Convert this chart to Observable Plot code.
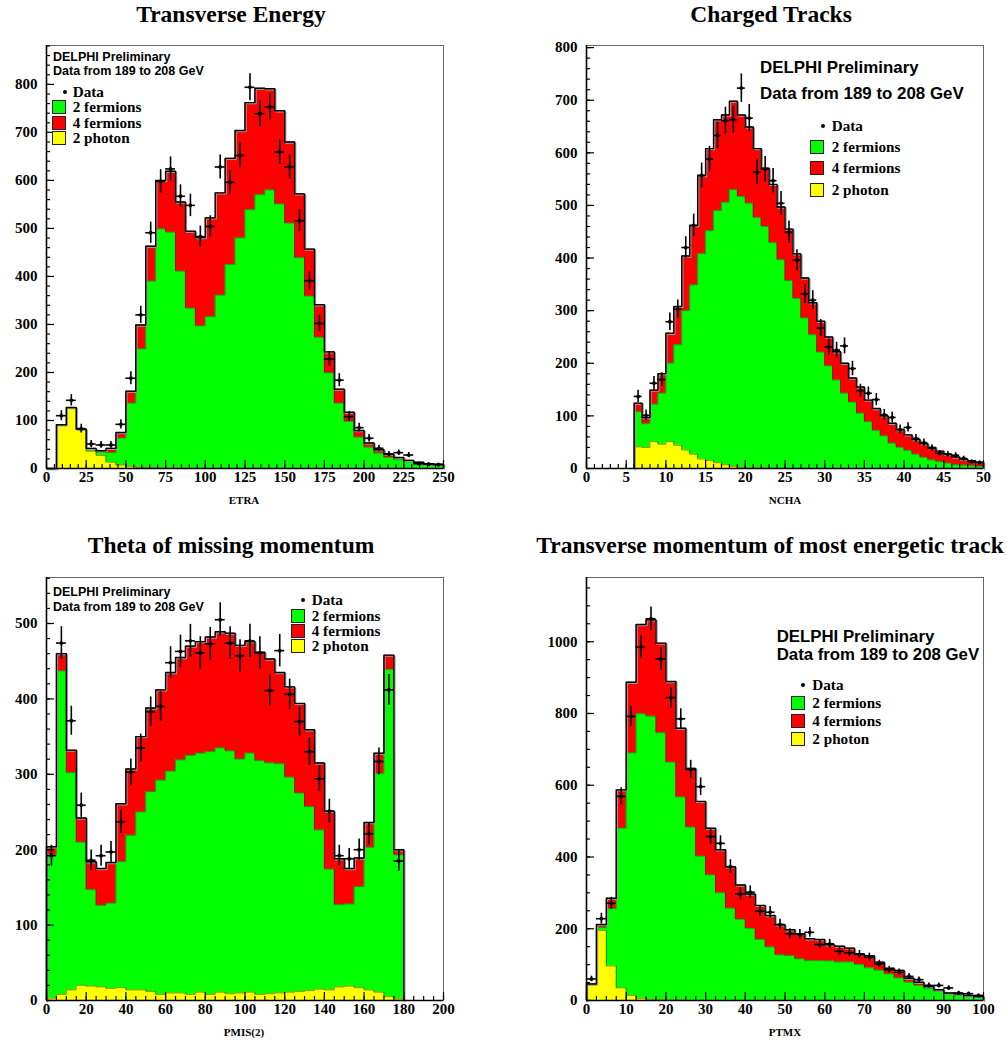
<!DOCTYPE html>
<html>
<head>
<meta charset="utf-8">
<script src="https://cdn.jsdelivr.net/npm/d3@7"></script>
<script src="https://cdn.jsdelivr.net/npm/@observablehq/plot@0.6"></script>
<style>
  html, body { margin: 0; padding: 0; background: #fff; }
  #page { position: relative; width: 1007px; height: 1043px; overflow: hidden; background: #fff; }
  #page svg { position: absolute; }
  .title { position: absolute; font-family: "Liberation Serif", serif; font-weight: bold; font-size: 23.5px; line-height: 1; white-space: nowrap; transform: translate(-50%, -50%); color: #000; }
  .axt { position: absolute; font-family: "Liberation Serif", serif; font-weight: bold; font-size: 11px; line-height: 1; white-space: nowrap; transform: translate(-50%, -50%); color: #000; }
  .note { position: absolute; font-family: "Liberation Sans", sans-serif; font-weight: bold; line-height: 1; white-space: nowrap; transform: translateY(-50%); color: #000; }
  .leg { position: absolute; font-family: "Liberation Serif", serif; font-weight: bold; font-size: 15.2px; line-height: 0.85; white-space: nowrap; transform: translateY(-50%); color: #000; }
  .box { position: absolute; width: 12px; height: 12px; border: 1px solid #222; transform: translateY(-50%); }
  .ldot { position: absolute; width: 4px; height: 4px; border-radius: 50%; background: #000; transform: translate(-50%, -50%); }
</style>
</head>
<body>
<div id="page"></div>
<script>
// ================= DATA =================
// Transverse Energy (ETRA): 40 bins of 6.25 from 0
const etraStart = 0, etraBin = 6.25;
const etraPhoton = [0,91,127,82,36,27,13,7,4,2,2,1,1,1,0,0,0,0,0,0,0,0,0,0,0,0,0,0,0,0,0,0,0,0,0,0,0,0,0,0];
const etraTwoF   = [0,0,0,0,3,7,20,56,132,247,388,498,491,410,334,297,316,361,425,480,539,570,580,551,511,439,359,273,199,136,98,65,44,32,23,18,14,9,7,6];
const etraFourF  = [0,0,0,0,3,3,9,12,25,50,73,101,127,144,160,184,206,213,221,224,223,222,211,194,169,133,98,68,44,29,19,14,9,7,7,5,3,4,3,3];
const etraData   = [null,110,142,83,51,49,49,92,188,320,491,598,624,567,548,483,504,628,596,652,794,739,753,659,628,516,391,302,228,184,108,85,63,42,30,33,28,10,9,8];

// Charged Tracks (NCHA): bins of 1 from 6 to 50
const nchaStart = 6, nchaBin = 1;
const nchaPhoton = [41,40,51,46,51,44,35,27,18,15,11,7,4,2,1,1,1,0,0,0,0,0,0,0,0,0,0,0,0,0,0,0,0,0,0,0,0,0,0,0,0,0,0,0];
const nchaTwoF   = [67,45,71,97,149,191,265,322,390,437,479,499,526,515,503,476,459,429,397,357,323,286,254,221,195,168,143,126,105,89,72,62,48,40,34,27,21,16,13,10,7,6,5,4];
const nchaFourF  = [16,12,27,37,57,73,104,113,149,156,173,166,168,155,145,131,111,111,100,98,85,76,61,59,55,54,57,46,50,41,42,38,38,34,30,28,26,24,20,17,15,12,10,8];
const nchaData   = [137,101,162,169,279,303,420,462,557,588,633,661,663,723,666,563,569,547,504,449,396,332,320,267,231,225,233,190,148,143,131,102,97,74,78,57,49,39,29,27,25,19,13,11];

// Theta of missing momentum (PMIS(2)): 36 bins of 5 from 0
const pmisStart = 0, pmisBin = 5;
const pmisPhoton = [3,8,14,20,19,18,16,17,14,14,12,8,10,10,8,11,8,11,9,10,11,8,9,10,11,12,13,15,14,18,19,17,14,11,5,2];
const pmisTwoF   = [190,429,288,190,128,108,113,167,205,236,265,284,294,309,317,317,322,324,322,310,317,310,306,304,285,263,244,211,160,109,109,134,189,290,434,191];
const pmisFourF  = [11,23,30,32,37,49,54,77,88,100,111,120,131,136,145,148,152,154,156,151,148,144,138,121,120,119,102,89,77,61,47,38,33,27,19,7];
const pmisData   = [192,474,371,259,186,192,197,237,303,335,383,390,448,463,477,461,473,505,474,457,477,461,411,464,406,370,330,294,251,192,188,200,221,317,412,185];

// Transverse momentum of most energetic track (PTMX): 40 bins of 2.5 from 0
const ptmxStart = 0, ptmxBin = 2.5;
const ptmxPhoton = [46,195,96,35,14,6,3,2,1,1,0,0,0,0,0,0,0,0,0,0,0,0,0,0,0,0,0,0,0,0,0,0,0,0,0,0,0,0,0,0];
const ptmxTwoF   = [0,8,160,445,676,793,789,744,663,566,483,402,350,300,257,226,201,170,149,127,125,116,111,111,110,107,107,100,91,84,74,63,51,42,33,26,19,14,12,9];
const ptmxFourF  = [0,9,29,107,197,249,269,250,225,192,164,153,130,120,116,96,96,95,88,84,72,70,61,59,45,44,39,30,34,23,16,21,11,9,6,4,2,5,2,2];
const ptmxData   = [60,228,271,569,792,985,1064,952,844,785,644,596,457,438,373,297,302,249,246,212,186,184,190,156,158,137,133,128,121,102,86,79,67,58,42,42,35,21,19,14];

// Texts
const titles = ["Transverse Energy", "Charged Tracks", "Theta of missing momentum", "Transverse momentum of most energetic track"];
const axisTitles = ["ETRA", "NCHA", "PMIS(2)", "PTMX"];
const noteLines = ["DELPHI Preliminary", "Data from 189 to 208 GeV"];
const legendLabels = ["Data", "2 fermions", "4 fermions", "2 photon"];

// Axis ranges and tick steps
const xMaxes = [250, 50, 200, 100];
const yMaxes = [881, 804, 561, 1179];
const xMajorSteps = [25, 5, 20, 10];
const xMinorSteps = [5, 1, 5, 2.5];
const yMajorSteps = [100, 100, 100, 200];
const yMinorSteps = [20, 20, 20, 50];

// Colours
const cPhoton = "#ffff00", cTwoF = "#00ff00", cFourF = "#ff0000";

// ================= LAYOUT =================
const layout = [
  { frame: [46, 45, 443, 468], title: [231, 15], axt: [244, 500],
    note: { x: 53, y: [56.7, 70.7], size: 12.5 },
    legend: { box: 51.7, dot: 65, text: 72.7, rows: [92, 107.3, 122.6, 137.9] } },
  { frame: [586, 45, 983, 468], title: [771, 15], axt: [785, 500],
    note: { x: 760, y: [68.3, 94.3], size: 16.9 },
    legend: { box: 810, dot: 823.3, text: 831.7, rows: [126, 146.7, 168.3, 190] } },
  { frame: [46, 577, 443, 1000], title: [231, 546], axt: [244, 1032],
    note: { x: 53, y: [591.7, 607.3], size: 12.5 },
    legend: { box: 290.7, dot: 303.3, text: 311.7, rows: [600.3, 615.6, 630.9, 646.2] } },
  { frame: [586, 577, 983, 1000], title: [770, 546], axt: [785, 1032],
    note: { x: 776.7, y: [637.3, 655], size: 16.8 },
    legend: { box: 790.7, dot: 803.3, text: 812.3, rows: [685, 703.3, 721, 739.3] } }
];

const series = [
  { start: etraStart, bin: etraBin, photon: etraPhoton, twoF: etraTwoF, fourF: etraFourF, data: etraData },
  { start: nchaStart, bin: nchaBin, photon: nchaPhoton, twoF: nchaTwoF, fourF: nchaFourF, data: nchaData },
  { start: pmisStart, bin: pmisBin, photon: pmisPhoton, twoF: pmisTwoF, fourF: pmisFourF, data: pmisData },
  { start: ptmxStart, bin: ptmxBin, photon: ptmxPhoton, twoF: ptmxTwoF, fourF: ptmxFourF, data: ptmxData }
];

const page = document.getElementById("page");

function div(cls, text, css) {
  const d = document.createElement("div");
  d.className = cls;
  if (text != null) d.textContent = text;
  Object.assign(d.style, css);
  page.appendChild(d);
  return d;
}

function stepPoints(edges, values) {
  const n = values.length;
  const pts = [{ x: edges[0], v: 0 }];
  values.forEach((v, i) => pts.push({ x: edges[i], v }));
  pts.push({ x: edges[n], v: values[n - 1] });
  pts.push({ x: edges[n], v: 0 });
  return pts;
}

function drawPanel(k) {
  const L = layout[k], S = series[k];
  const [fx0, fy0, fx1, fy1] = L.frame;
  const mL = 46, mT = 25, mR = 20, mB = 45;
  const width = fx1 - fx0 + mL + mR, height = fy1 - fy0 + mT + mB;
  const n = S.photon.length;
  const edges = d3.range(n + 1).map(i => S.start + i * S.bin);
  const cumPhoton = S.photon.slice();
  const cumTwoF = cumPhoton.map((v, i) => v + S.twoF[i]);
  const cumAll = cumTwoF.map((v, i) => v + S.fourF[i]);
  const pR = stepPoints(edges, cumAll), pG = stepPoints(edges, cumTwoF), pY = stepPoints(edges, cumPhoton);
  const pts = S.data.map((v, i) => v == null ? null : ({ a: edges[i], b: edges[i + 1], c: (edges[i] + edges[i + 1]) / 2, v, e: Math.sqrt(v) })).filter(d => d);

  const xMax = xMaxes[k], yMax = yMaxes[k];
  const xMaj = d3.range(0, xMax + 1e-6, xMajorSteps[k]);
  const xMin = d3.range(0, xMax + 1e-6, xMinorSteps[k]);
  const yMaj = d3.range(0, yMax + 1e-6, yMajorSteps[k]);
  const yMin = d3.range(0, yMax + 1e-6, yMinorSteps[k]);
  const font = { fontFamily: "Liberation Serif", fontSize: 15, fontWeight: "bold", fill: "black" };

  const svg = Plot.plot({
    width, height,
    marginLeft: mL, marginTop: mT, marginRight: mR, marginBottom: mB,
    x: { domain: [0, xMax] },
    y: { domain: [0, yMax] },
    style: { background: "transparent", overflow: "visible", color: "black" },
    marks: [
      Plot.areaY(pR, { x: "x", y1: 0, y2: "v", curve: "step-after", fill: cFourF }),
      Plot.areaY(pG, { x: "x", y1: 0, y2: "v", curve: "step-after", fill: cTwoF }),
      Plot.areaY(pY, { x: "x", y1: 0, y2: "v", curve: "step-after", fill: cPhoton }),
      Plot.line(pG, { x: "x", y: "v", curve: "step-after", stroke: "#000", strokeOpacity: 0.35, strokeWidth: 0.8 }),
      Plot.line(pY, { x: "x", y: "v", curve: "step-after", stroke: "#000", strokeOpacity: 0.5, strokeWidth: 0.8 }),
      Plot.line(pR, { x: "x", y: "v", curve: "step-after", stroke: "#9a9a9a", strokeWidth: 1.4, dx: 1, dy: 1 }),
      Plot.line(pR, { x: "x", y: "v", curve: "step-after", stroke: "#000", strokeWidth: 1.4 }),
      Plot.frame({ stroke: "#666", strokeWidth: 1 }),
      Plot.ruleX([0], { stroke: "#000", strokeWidth: 1.6 }),
      Plot.ruleY([0], { stroke: "#000", strokeWidth: 1.6 }),
      Plot.axisY({ ticks: yMin, tickSize: -4, fill: "none", label: null, strokeWidth: 1.2 }),
      Plot.axisY({ ticks: yMaj, tickSize: -8, fill: "none", label: null, strokeWidth: 1.2 }),
      Plot.axisX({ ticks: xMin, anchor: "bottom", tickSize: -4, fill: "none", label: null, strokeWidth: 1.2 }),
      Plot.axisX({ ticks: xMaj, anchor: "bottom", tickSize: -8, fill: "none", label: null, strokeWidth: 1.2 }),
      Plot.axisY({ ticks: yMaj, tickSize: 0, tickPadding: 9, label: null, tickFormat: d3.format("d"), ...font }),
      Plot.axisX({ ticks: xMaj, anchor: "bottom", tickSize: 0, tickPadding: 3, label: null, tickFormat: d3.format("d"), ...font }),
      Plot.ruleX(pts, { x: "c", y1: d => d.v - d.e, y2: d => d.v + d.e, stroke: "#000", strokeWidth: 1.6 }),
      Plot.ruleY(pts, { y: "v", x1: "a", x2: "b", stroke: "#000", strokeWidth: 1.6 }),
      Plot.dot(pts, { x: "c", y: "v", r: 1.9, fill: "#000", stroke: null })
    ]
  });
  svg.style.left = (fx0 - mL) + "px";
  svg.style.top = (fy0 - mT) + "px";
  page.appendChild(svg);
}

for (let k = 0; k < 4; k++) drawPanel(k);

// Texts on top
layout.forEach((L, k) => {
  div("title", titles[k], { left: L.title[0] + "px", top: L.title[1] + "px" });
  div("axt", axisTitles[k], { left: L.axt[0] + "px", top: L.axt[1] + "px" });
  noteLines.forEach((t, j) => div("note", t, { left: L.note.x + "px", top: L.note.y[j] + "px", fontSize: L.note.size + "px" }));
  const G = L.legend;
  div("ldot", null, { left: G.dot + "px", top: G.rows[0] + "px" });
  div("leg", legendLabels[0], { left: G.text + "px", top: G.rows[0] + "px" });
  [cTwoF, cFourF, cPhoton].forEach((c, j) => {
    div("box", null, { left: G.box + "px", top: G.rows[j + 1] + "px", background: c });
    div("leg", legendLabels[j + 1], { left: G.text + "px", top: G.rows[j + 1] + "px" });
  });
});
</script>
</body>
</html>
